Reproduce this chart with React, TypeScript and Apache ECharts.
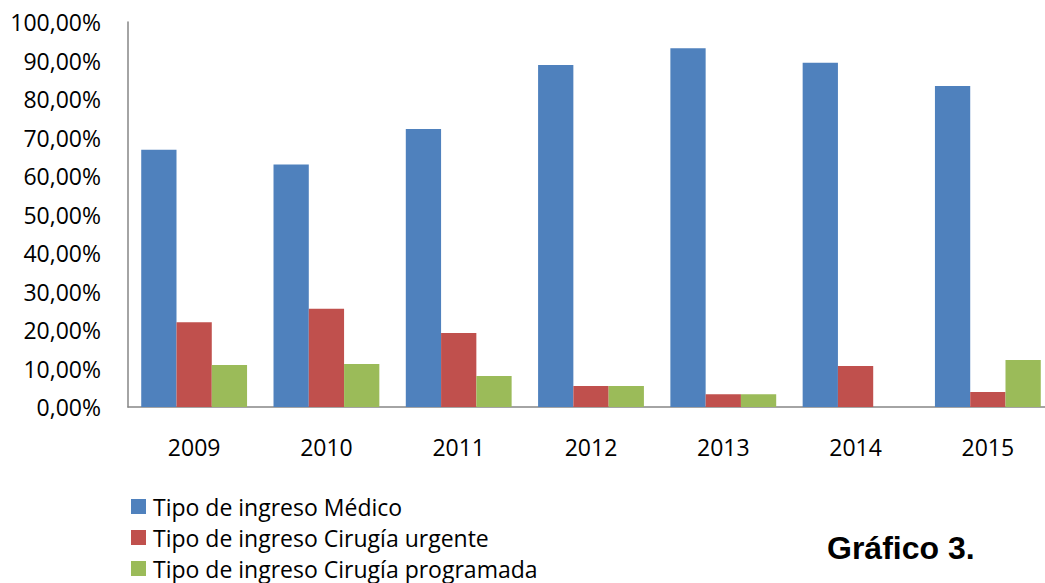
import React, { useEffect, useRef } from "react";
import * as echarts from "echarts";

const years = ["2009", "2010", "2011", "2012", "2013", "2014", "2015"];
const medico = [66.8, 63.0, 72.2, 88.8, 93.2, 89.4, 83.4];
const urgente = [22.0, 25.5, 19.2, 5.45, 3.3, 10.65, 3.9];
const programada = [10.9, 11.2, 8.05, 5.45, 3.3, 0, 12.2];
const seriesNames = [
  "Tipo de ingreso Médico",
  "Tipo de ingreso Cirugía urgente",
  "Tipo de ingreso Cirugía programada",
];
const colors = ["#4F81BD", "#C0504D", "#9BBB59"];

export default function App() {
  const ref = useRef<HTMLDivElement>(null);
  useEffect(() => {
    if (!ref.current) return;
    const chart = echarts.init(ref.current, undefined, { renderer: "svg" });
    const font = "'Open Sans', sans-serif";
    const mk = (name: string, data: number[], color: string) => ({
      name,
      type: "bar",
      data,
      barGap: "0%",
      barCategoryGap: "20%",
      itemStyle: { color },
    });
    const legendTops = [495, 526, 557];
    chart.setOption({
      animation: false,
      color: colors,
      grid: { left: 128, top: 22, bottom: 176, right: 0, containLabel: false },
      xAxis: {
        type: "category",
        data: years,
        axisLine: { lineStyle: { color: "#868686", width: 1.5 } },
        axisTick: { show: false },
        axisLabel: { color: "#000", fontSize: 23, fontFamily: font, margin: 28 },
      },
      yAxis: {
        type: "value",
        min: 0,
        max: 100,
        interval: 10,
        axisLine: { show: true, lineStyle: { color: "#868686", width: 1.5 } },
        axisTick: { show: false },
        splitLine: { show: false },
        axisLabel: {
          color: "#000",
          fontSize: 23,
          fontFamily: font,
          margin: 27,
          formatter: (v: number) => v.toFixed(2).replace(".", ",") + "%",
        },
      },
      legend: seriesNames.map((n, i) => ({
        orient: "vertical",
        left: 131,
        top: legendTops[i],
        padding: 0,
        itemWidth: 15,
        itemHeight: 15,
        icon: "rect",
        data: [n],
        selectedMode: false,
        textStyle: {
          color: "#000",
          fontSize: 23,
          fontFamily: font,
          lineHeight: 22,
          padding: [0, 0, 0, 2],
        },
      })),
      graphic: [
        {
          type: "text",
          left: 827,
          top: 532,
          style: {
            text: "Gráfico 3.",
            fontSize: 32,
            fontWeight: "bold",
            fontFamily: "'Liberation Sans', Arial, sans-serif",
            fill: "#000",
          },
        },
      ],
      series: [
        mk(seriesNames[0], medico, colors[0]),
        mk(seriesNames[1], urgente, colors[1]),
        mk(seriesNames[2], programada, colors[2]),
      ],
    });
    return () => chart.dispose();
  }, []);
  return (
    <div
      style={{
        position: "fixed",
        left: 0,
        top: 0,
        width: 1045,
        height: 583,
        overflow: "hidden",
        background: "#fff",
      }}
    >
      <div ref={ref} style={{ width: 1054, height: 583 }} />
    </div>
  );
}
